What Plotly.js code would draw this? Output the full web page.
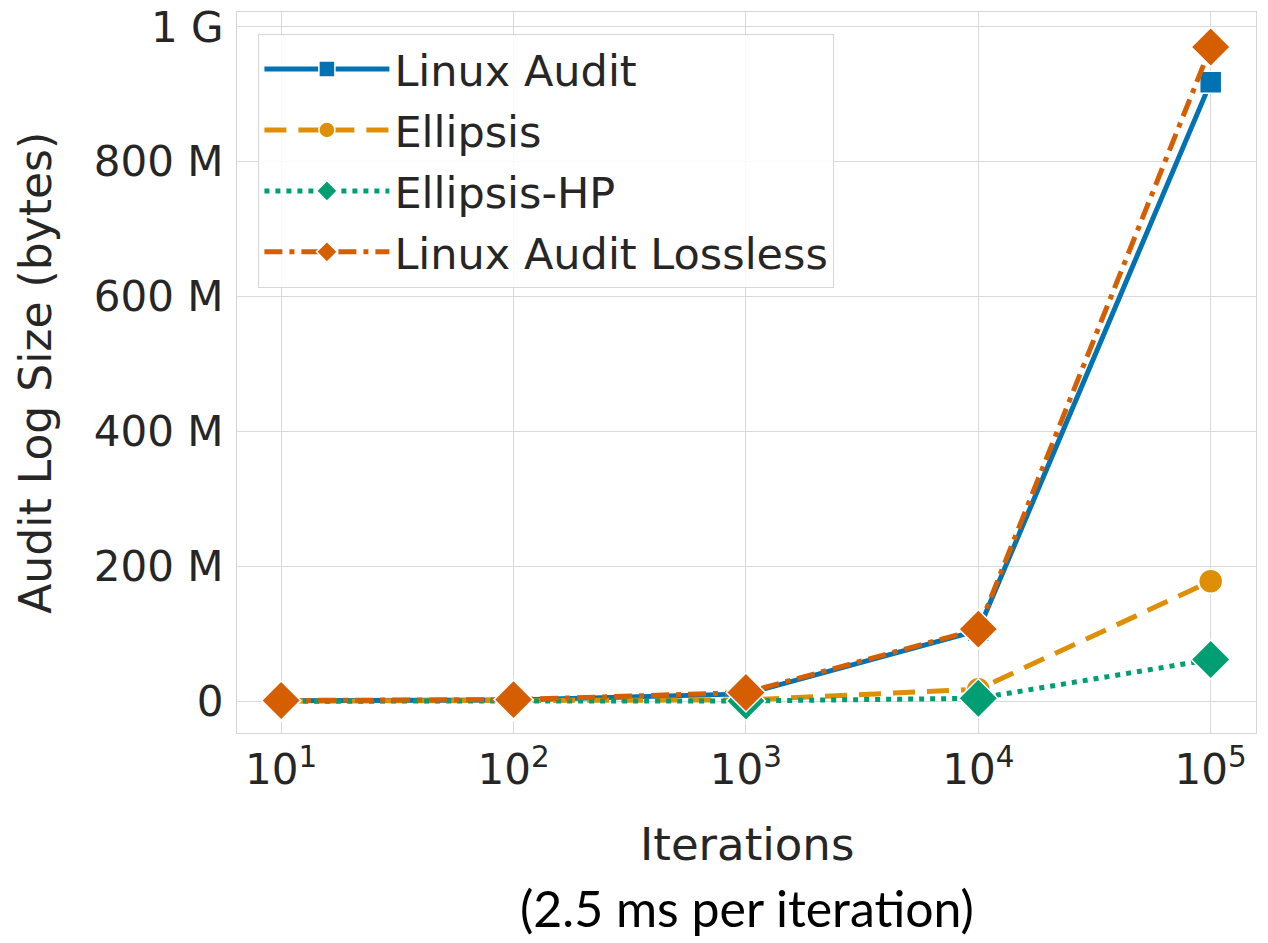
<!DOCTYPE html>
<html><head><meta charset="utf-8">
<script src="https://cdn.plot.ly/plotly-3.0.1.min.js"></script>
<style>body{margin:0;background:#fff}#c{width:1268px;height:943px}</style>
</head><body><div id="c"></div>
<script>
var iterations = [10, 100, 1000, 10000, 100000];
var linuxAudit = [1.0e6, 2.0e6, 11e6, 105e6, 918e6];
var ellipsis = [0.3e6, 0.8e6, 2.0e6, 18e6, 178e6];
var ellipsisHP = [0.2e6, 0.5e6, 0.5e6, 4.5e6, 62e6];
var linuxAuditLossless = [1.2e6, 2.5e6, 13e6, 107e6, 970e6];
var yTickVals = [0, 200e6, 400e6, 600e6, 800e6, 1000e6];
var yTickText = ['0', '200 M', '400 M', '600 M', '800 M', '1 G'];
var xTickVals = [10, 100, 1000, 10000, 100000];
var xTickText = ['10<sup>1</sup>', '10<sup>2</sup>', '10<sup>3</sup>', '10<sup>4</sup>', '10<sup>5</sup>'];

function tr(name, y, color, dash, symbol, size) {
  return {x: iterations, y: y, name: name, legendgroup: name, type: 'scatter', mode: 'lines+markers',
    line: {color: color, width: 5, dash: dash},
    marker: {symbol: symbol, size: size, color: color, line: {color: '#ffffff', width: 1.5}}};
}
var data = [
  tr('Linux Audit', linuxAudit, '#0173b2', 'solid', 'square', 22),
  tr('Ellipsis', ellipsis, '#de8f05', '22px,12px', 'circle', 24),
  tr('Ellipsis-HP', ellipsisHP, '#029e73', '5px,6px', 'diamond', 30),
  tr('Linux Audit Lossless', linuxAuditLossless, '#d55e00', '18px,7px,5px,7px', 'diamond', 30)
];
var font = 'DejaVu Sans, sans-serif';
var layout = {
  width: 1268, height: 943,
  margin: {l: 237, r: 12, t: 12, b: 210},
  paper_bgcolor: '#ffffff', plot_bgcolor: '#ffffff',
  showlegend: true,
  legend: {x: 0.021, y: 0.97, xanchor: 'left', yanchor: 'top', bgcolor: 'rgba(255,255,255,0.85)',
    bordercolor: '#d6d6d6', borderwidth: 1, font: {family: font, size: 43, color: '#262626'},
    itemwidth: 125, tracegroupgap: 2},
  xaxis: {type: 'log', range: [0.81, 5.195], tickvals: xTickVals, ticktext: xTickText,
    showgrid: true, gridcolor: '#d9d9d9', gridwidth: 1, zeroline: false,
    showline: true, linecolor: '#d6d6d6', mirror: true, ticks: '', ticklen: 0,
    tickfont: {family: font, size: 42, color: '#262626'}},
  yaxis: {range: [-47e6, 1022e6], tickvals: yTickVals, ticktext: yTickText,
    showgrid: true, gridcolor: '#d9d9d9', gridwidth: 1, zeroline: false,
    showline: true, linecolor: '#d6d6d6', mirror: true, ticks: '', ticklabelstandoff: 4,
    tickfont: {family: font, size: 42, color: '#262626'}},
  annotations: [
    {xref: 'paper', yref: 'paper', x: -0.198, y: 0.5, xanchor: 'center', yanchor: 'middle', showarrow: false,
      textangle: -90, text: 'Audit Log Size (bytes)', font: {family: font, size: 44, color: '#262626'}},
    {xref: 'paper', yref: 'paper', x: 0.5, y: -0.155, xanchor: 'center', yanchor: 'middle', showarrow: false,
      text: 'Iterations', font: {family: font, size: 45, color: '#262626'}},
    {xref: 'paper', yref: 'paper', x: 0.5, y: -0.243, xanchor: 'center', yanchor: 'middle', showarrow: false,
      text: '(2.5 ms per iteration)', font: {family: 'Lato, Open Sans, sans-serif', size: 50, color: '#000000'}}
  ]
};
Plotly.newPlot('c', data, layout, {displayModeBar: false, staticPlot: true});
</script></body></html>
